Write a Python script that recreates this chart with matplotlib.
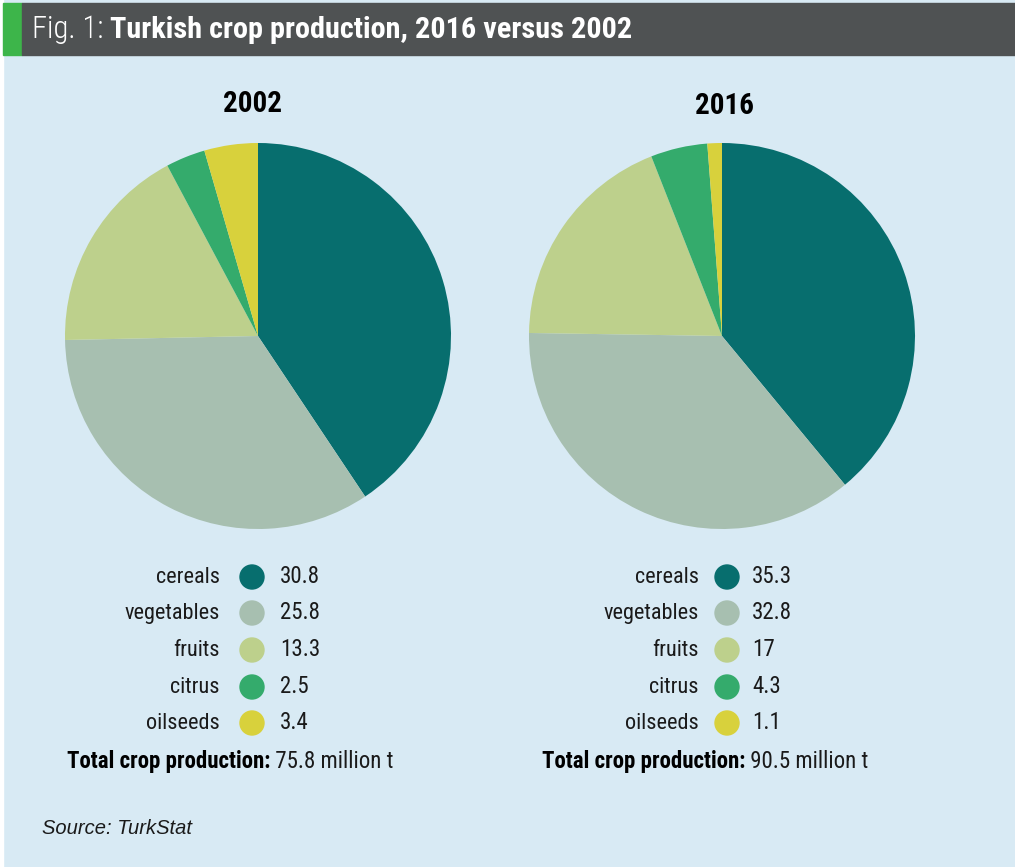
import matplotlib
matplotlib.use("Agg")
import matplotlib.pyplot as plt
from matplotlib.patches import Rectangle, Circle

# ---- data ----
categories = ["cereals", "vegetables", "fruits", "citrus", "oilseeds"]
values_2002 = [30.8, 25.8, 13.3, 2.5, 3.4]
values_2016 = [35.3, 32.8, 17, 4.3, 1.1]
value_labels_2002 = ["30.8", "25.8", "13.3", "2.5", "3.4"]
value_labels_2016 = ["35.3", "32.8", "17", "4.3", "1.1"]
totals = ["75.8 million t", "90.5 million t"]
years = ["2002", "2016"]
colors = ["#076e6e", "#a7bfb0", "#bdd08c", "#34ab6c", "#d8d13c"]

BG = "#d8eaf4"
W, H = 1015, 867
COND = ["Roboto Condensed", "DejaVu Sans"]
plt.rcParams['font.family'] = COND

fig = plt.figure(figsize=(W / 100, H / 100), dpi=100, facecolor=BG)

# overlay axes in pixel coordinates
ov = fig.add_axes([0, 0, 1, 1])
ov.set_xlim(0, W)
ov.set_ylim(H, 0)
ov.axis("off")
ov.set_zorder(0)

# header
ov.add_patch(Rectangle((0, 0), 3, H, color="white", zorder=0))
ov.add_patch(Rectangle((3, 3), 19, 52, color="#3db54a", zorder=1))
ov.add_patch(Rectangle((22, 3), W - 22, 52, color="#4f5253", zorder=1))
t1 = ov.text(32, 38, "Fig. 1:", color="white", fontsize=22, va="baseline", ha="left", zorder=2,
             fontweight="light")
ov.annotate(" Turkish crop production, 2016 versus 2002", xy=(1, 0), xycoords=t1,
            va="bottom", ha="left", color="white", fontsize=21.8, fontweight="bold", zorder=2)

# pies
centers = [(258, 336), (722, 336)]
R = 193
for (cx, cy), vals, yr in zip(centers, [values_2002, values_2016], years):
    pax = fig.add_axes([(cx - R) / W, 1 - (cy + R) / H, 2 * R / W, 2 * R / H])
    pax.pie(vals, colors=colors, startangle=90, counterclock=False,
            wedgeprops=dict(linewidth=0))
    pax.set_xlim(-1, 1)
    pax.set_ylim(-1, 1)
    pax.set_aspect("equal")
    pax.axis("off")

ov.text(253, 112, years[0], fontsize=21, fontweight="bold", ha="center", va="baseline", color="black")
ov.text(725, 114, years[1], fontsize=21, fontweight="bold", ha="center", va="baseline", color="black")

# legends
row_y = [577, 613, 650, 687, 723]
legend_x = [(220, 252, 280, 67), (699, 727, 752, 542)]
for (lx, dx, vx, tx), vlabels, tot in zip(legend_x, [value_labels_2002, value_labels_2016], totals):
    for cat, vl, col, y in zip(categories, vlabels, colors, row_y):
        ov.text(lx, y + 6, cat, fontsize=16, ha="right", va="baseline", color="#1a1a1a")
        ov.add_patch(Circle((dx, y), 12, color=col, zorder=3))
        ov.text(vx, y + 6, vl, fontsize=16.5, ha="left", va="baseline", color="#1a1a1a")
    tb = ov.text(tx, 768, "Total crop production:", fontsize=16.5, fontweight="bold",
                 ha="left", va="baseline", color="black")
    ov.annotate(" " + tot, xy=(1, 0), xycoords=tb, va="bottom", ha="left",
                fontsize=16.5, color="#1a1a1a")

ov.text(42, 829, "Source: TurkStat", fontsize=14.5, style="italic", ha="left", va="center",
        color="#1a1a1a", family=["Liberation Sans", "DejaVu Sans"])

fig.savefig("out.png", dpi=100, facecolor=BG)
